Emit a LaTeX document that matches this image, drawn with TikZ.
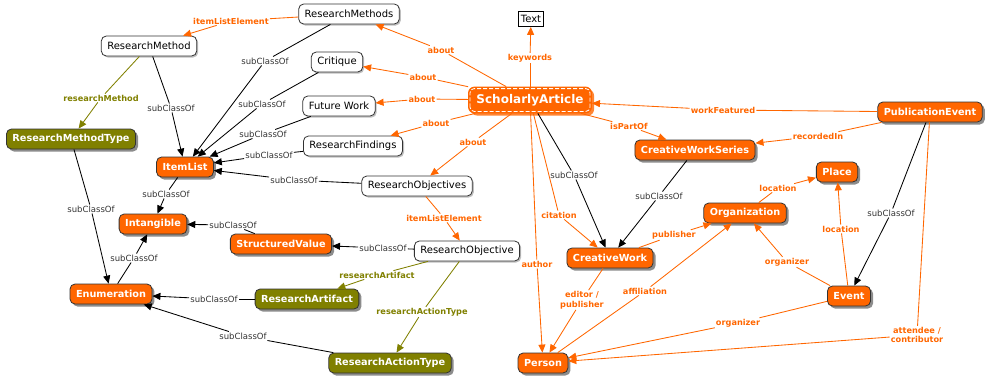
\documentclass[tikz,border=0pt]{standalone}
\usepackage{fontspec}
\setmainfont{DejaVu Sans}
\usetikzlibrary{arrows.meta,shadows}
\definecolor{orng}{HTML}{FF6600}
\definecolor{olv}{HTML}{808000}
\begin{document}
\begin{tikzpicture}[x=1pt,y=-1pt,
 base/.style={rounded corners=5pt, minimum height=20pt, inner xsep=6pt, inner ysep=2pt, line width=0.8pt, draw=black!80},
 wnode/.style={base, fill=white, font=\fontsize{10}{12}\selectfont, drop shadow={shadow xshift=1.5pt,shadow yshift=-1.5pt,fill=black!25,opacity=1}},
 onode/.style={base, fill=orng, text=white, font=\fontsize{9.7}{11}\selectfont\bfseries, drop shadow={shadow xshift=2.5pt,shadow yshift=-2.5pt,fill=black!45,opacity=1}},
 gnode/.style={onode, fill=olv},
 tnode/.style={draw=black, line width=0.8pt, fill=white, minimum height=15pt, inner xsep=2.5pt, inner ysep=1pt, font=\fontsize{10}{12}\selectfont},
 sanode/.style={rounded corners=6pt, minimum height=26pt, inner xsep=8pt, fill=orng, draw=orng, line width=0.8pt, text=white, font=\fontsize{12}{14}\selectfont\bfseries, drop shadow={shadow xshift=2.5pt,shadow yshift=-2.5pt,fill=orng!80,opacity=1}},
 slab/.style={font=\fontsize{8.5}{10}\selectfont, text=black!80, inner sep=1pt},
 olab/.style={font=\fontsize{8.2}{9.5}\selectfont\bfseries, text=orng, inner sep=1pt, align=center},
 glab/.style={olab, text=olv},
 se/.style={draw=black, line width=0.85pt},
 oe/.style={draw=orng, line width=0.85pt},
 ge/.style={draw=olv, line width=0.85pt},
 arr/.style={-{Triangle[length=8pt,width=7pt]}}
]
\useasboundingbox (0,0) rectangle (985,376);

% concept nodes
\node[wnode] (RMs) at (349,14) {ResearchMethods};
\node[wnode] (RM) at (149,46) {ResearchMethod};
\node[wnode] (Crit) at (337,62) {Critique};
\node[wnode] (FW) at (339,106) {Future Work};
\node[wnode] (RF) at (353,146) {ResearchFindings};
\node[wnode] (ROs) at (417,186) {ResearchObjectives};
\node[wnode] (RO) at (467,251) {ResearchObjective};
\node[tnode] (Text) at (531,19) {Text};

\node[sanode] (SA) at (530,100) {ScholarlyArticle};
\draw[white, line width=0.8pt, dashed, dash pattern=on 4pt off 2pt, rounded corners=4pt]
  ([xshift=2pt,yshift=2pt]SA.south west) rectangle ([xshift=-2pt,yshift=-2pt]SA.north east);

\node[onode] (IL) at (185,167) {ItemList};
\node[onode] (Int) at (153,224) {Intangible};
\node[onode] (SV) at (281,244) {StructuredValue};
\node[onode] (Enum) at (111,294) {Enumeration};
\node[onode] (Person) at (543,363) {Person};
\node[onode] (CW) at (610,258) {CreativeWork};
\node[onode] (CWS) at (695,150) {CreativeWorkSeries};
\node[onode] (Place) at (837,172) {Place};
\node[onode] (Org) at (745,213) {Organization};
\node[onode] (Event) at (849,296) {Event};
\node[onode] (PE) at (930,112) {PublicationEvent};

\node[gnode] (RMT) at (71,139) {ResearchMethodType};
\node[gnode] (RA) at (307,299) {ResearchArtifact};
\node[gnode] (RAT) at (390,363) {ResearchActionType};

% linking phrases
\node[olab] (l1) at (231,21) {itemListElement};
\node[olab] (l2) at (441,50) {about};
\node[olab] (l3) at (423,77) {about};
\node[olab] (l4) at (422,99) {about};
\node[olab] (l5) at (436,123) {about};
\node[olab] (l6) at (473,142) {about};
\node[olab] (l7) at (530,58) {keywords};
\node[olab] (l8) at (537,264) {author};
\node[olab] (l9) at (559,215) {citation};
\node[slab] (l10) at (574,175) {subClassOf};
\node[olab] (l11) at (629,126) {isPartOf};
\node[olab] (l12) at (723,110) {workFeatured};
\node[olab] (l13) at (818,136) {recordedIn};
\node[slab] (l14) at (891,213) {subClassOf};
\node[olab] (l15) at (917,335) {attendee /\\contributor};
\node[olab] (l16) at (738,323) {organizer};
\node[olab] (l17) at (787,262) {organizer};
\node[olab] (l18) at (841,229) {location};
\node[olab] (l19) at (778,188) {location};
\node[olab] (l20) at (674,235) {publisher};
\node[olab] (l21) at (645,291) {affiliation};
\node[olab] (l22) at (582,300) {editor /\\publisher};
\node[slab] (l23) at (659,196) {subClassOf};
\node[glab] (l24) at (101,98) {researchMethod};
\node[slab] (l25) at (171,108) {subClassOf};
\node[slab] (l26) at (265,61) {subClassOf};
\node[slab] (l27) at (262,104) {subClassOf};
\node[slab] (l28) at (263,134) {subClassOf};
\node[slab] (l29) at (269,155) {subClassOf};
\node[slab] (l30) at (294,180) {subClassOf};
\node[slab] (l31) at (166,194) {subClassOf};
\node[slab] (l32) at (233,225) {subClassOf};
\node[slab] (l33) at (134,258) {subClassOf};
\node[slab] (l34) at (91,209) {subClassOf};
\node[slab] (l35) at (383,248) {subClassOf};
\node[slab] (l36) at (214,299) {subClassOf};
\node[slab] (l37) at (243,336) {subClassOf};
\node[olab] (l38) at (444,218) {itemListElement};
\node[glab] (l39) at (377,275) {researchArtifact};
\node[glab] (l40) at (422,312) {researchActionType};

% connections
\draw[oe] (RMs) -- (l1); \draw[oe,arr] (l1) -- (RM);
\draw[oe] (SA) -- (l2); \draw[oe,arr] (l2) -- (RMs);
\draw[oe] (SA) -- (l3); \draw[oe,arr] (l3) -- (Crit);
\draw[oe] (SA) -- (l4); \draw[oe,arr] (l4) -- (FW);
\draw[oe] (SA) -- (l5); \draw[oe,arr] (l5) -- (RF);
\draw[oe] (SA) -- (l6); \draw[oe,arr] (l6) -- (ROs);
\draw[oe] (SA) -- (l7); \draw[oe,arr] (l7) -- (Text);
\draw[oe] (SA) -- (l8); \draw[oe,arr] (l8) -- (Person);
\draw[oe] (SA) -- (l9); \draw[oe,arr] (l9) -- (CW);
\draw[se] (SA) -- (l10); \draw[se,arr] (l10) -- (CW);
\draw[oe] (SA) -- (l11); \draw[oe,arr] (l11) -- (CWS);
\draw[oe] (PE) -- (l12); \draw[oe,arr] (l12) -- (SA);
\draw[oe] (PE) -- (l13); \draw[oe,arr] (l13) -- (CWS);
\draw[se] (PE) -- (l14); \draw[se,arr] (l14) -- (Event);
\draw[oe] (PE) -- (l15); \draw[oe,arr] (l15) -- (Person);
\draw[oe] (Event) -- (l16); \draw[oe,arr] (l16) -- (Person);
\draw[oe] (Event) -- (l17); \draw[oe,arr] (l17) -- (Org);
\draw[oe] (Event) -- (l18); \draw[oe,arr] (l18) -- (Place);
\draw[oe] (Org) -- (l19); \draw[oe,arr] (l19) -- (Place);
\draw[oe] (CW) -- (l20); \draw[oe,arr] (l20) -- (Org);
\draw[oe] (Person) -- (l21); \draw[oe,arr] (l21) -- (Org);
\draw[oe] (CW) -- (l22); \draw[oe,arr] (l22) -- (Person);
\draw[se] (CWS) -- (l23); \draw[se,arr] (l23) -- (CW);
\draw[ge] (RM) -- (l24); \draw[ge,arr] (l24) -- (RMT);
\draw[se] (RM) -- (l25); \draw[se,arr] (l25) -- (IL);
\draw[se] (RMs) -- (l26); \draw[se,arr] (l26) -- (IL);
\draw[se] (Crit) -- (l27); \draw[se,arr] (l27) -- (IL);
\draw[se] (FW) -- (l28); \draw[se,arr] (l28) -- (IL);
\draw[se] (RF) -- (l29); \draw[se,arr] (l29) -- (IL);
\draw[se] (ROs) -- (l30); \draw[se,arr] (l30) -- (IL);
\draw[se] (IL) -- (l31); \draw[se,arr] (l31) -- (Int);
\draw[se] (SV) -- (l32); \draw[se,arr] (l32) -- (Int);
\draw[se] (Enum) -- (l33); \draw[se,arr] (l33) -- (Int);
\draw[se] (RMT) -- (l34); \draw[se,arr] (l34) -- (Enum);
\draw[se] (RO) -- (l35); \draw[se,arr] (l35) -- (SV);
\draw[se] (RA) -- (l36); \draw[se,arr] (l36) -- (Enum);
\draw[se] (RAT) -- (l37); \draw[se,arr] (l37) -- (Enum);
\draw[oe] (ROs) -- (l38); \draw[oe,arr] (l38) -- (RO);
\draw[ge] (RO) -- (l39); \draw[ge,arr] (l39) -- (RA);
\draw[ge] (RO) -- (l40); \draw[ge,arr] (l40) -- (RAT);
\end{tikzpicture}
\end{document}
